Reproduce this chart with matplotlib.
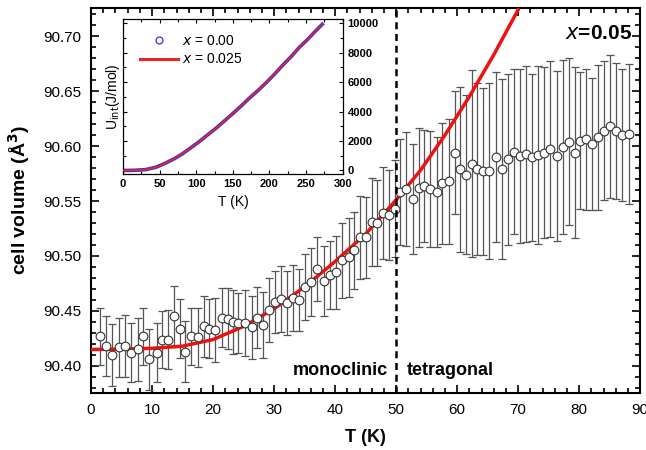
import numpy as np
import matplotlib
matplotlib.use("Agg")
import matplotlib.pyplot as plt
from matplotlib.lines import Line2D
from matplotlib.ticker import MultipleLocator

plt.rcParams["font.family"] = ["Liberation Sans", "DejaVu Sans"]

# ── data: x=0.05 cell volume vs T ─────────────────────────
temp_k = [1.4, 2.4, 3.5, 4.6, 5.6, 6.6, 7.7, 8.5, 9.5, 10.8,
          11.6, 12.6, 13.6, 14.5, 15.4, 16.4, 17.5, 18.5, 19.4, 20.3,
          21.4, 22.4, 23.3, 24.1, 25.2, 26.3, 27.2, 28.2, 29.2, 30.2,
          31.1, 32.1, 33.1, 34.1, 35.1, 36.0, 37.0, 38.1, 39.1, 40.2,
          41.1, 42.2, 43.1, 44.0, 45.1, 46.0, 46.9, 47.8, 48.9, 49.8,
          50.7, 51.6, 52.7, 53.7, 54.6, 55.6, 56.7, 57.5, 58.6, 59.6,
          60.5, 61.5, 62.4, 63.3, 64.3, 65.3, 66.4, 67.3, 68.3, 69.3,
          70.3, 71.3, 72.2, 73.2, 74.2, 75.3, 76.3, 77.3, 78.3, 79.3,
          80.2, 81.1, 82.1, 83.1, 84.1, 85.1, 86.1, 87.0, 88.1]
volume = [90.427, 90.418, 90.410, 90.417, 90.418, 90.412, 90.415, 90.427, 90.406, 90.412,
          90.424, 90.424, 90.445, 90.434, 90.413, 90.427, 90.426, 90.436, 90.434, 90.433,
          90.444, 90.443, 90.440, 90.439, 90.439, 90.435, 90.444, 90.437, 90.451, 90.458,
          90.461, 90.457, 90.462, 90.460, 90.472, 90.476, 90.488, 90.477, 90.483, 90.485,
          90.496, 90.499, 90.505, 90.517, 90.517, 90.531, 90.530, 90.539, 90.537, 90.543,
          90.558, 90.561, 90.552, 90.562, 90.564, 90.561, 90.558, 90.566, 90.568, 90.594,
          90.579, 90.574, 90.584, 90.579, 90.577, 90.577, 90.590, 90.579, 90.588, 90.595,
          90.591, 90.593, 90.590, 90.592, 90.594, 90.597, 90.591, 90.599, 90.604, 90.594,
          90.605, 90.606, 90.602, 90.608, 90.614, 90.618, 90.614, 90.610, 90.611]
vol_err = [0.026, 0.027, 0.028, 0.027, 0.028, 0.027, 0.029, 0.026, 0.028, 0.027,
           0.026, 0.027, 0.028, 0.027, 0.028, 0.026, 0.027, 0.028, 0.027, 0.029,
           0.027, 0.028, 0.029, 0.027, 0.030, 0.029, 0.028, 0.030, 0.029, 0.028,
           0.030, 0.029, 0.030, 0.028, 0.030, 0.031, 0.029, 0.032, 0.031, 0.033,
           0.034, 0.036, 0.035, 0.038, 0.037, 0.040, 0.039, 0.042, 0.041, 0.044,
           0.048, 0.052, 0.050, 0.054, 0.051, 0.053, 0.050, 0.055, 0.057, 0.056,
           0.075, 0.072, 0.085, 0.078, 0.076, 0.080, 0.077, 0.082, 0.078, 0.075,
           0.079, 0.080, 0.076, 0.081, 0.078, 0.080, 0.077, 0.079, 0.076, 0.078,
           0.062, 0.064, 0.060, 0.066, 0.063, 0.065, 0.062, 0.060, 0.064]

# fitted curve (red)
fit_t = [0, 5, 10, 15, 20, 25, 30, 35, 40, 45, 50, 54, 58, 62, 66, 70]
fit_v = [90.415, 90.4152, 90.416, 90.418, 90.424, 90.436, 90.452, 90.472,
         90.495, 90.520, 90.551, 90.578, 90.610, 90.645, 90.683, 90.724]

# inset: internal energy U_int(T)
ins_t = [0, 15, 31, 45, 58, 70, 81, 92, 104, 115, 127, 138, 150, 161,
         172, 184, 195, 207, 218, 230, 241, 252, 263, 272]
ins_u = [0, 10, 60, 220, 500, 800, 1130, 1520, 1960, 2400, 2870, 3350,
         3870, 4370, 4890, 5420, 5940, 6550, 7150, 7760, 8380, 8900, 9480, 9930]

# ── main figure ───────────────────────────────────────────
fig = plt.figure(figsize=(6.46, 4.5), dpi=100)
ax = fig.add_axes([0.141, 0.127, 0.850, 0.855])

ax.errorbar(temp_k, volume, yerr=vol_err, fmt="none", ecolor="#555555",
            elinewidth=0.9, capsize=3.0, capthick=0.9, zorder=2)
ax.plot(fit_t, fit_v, color="#ee1111", lw=2.5, zorder=3)
ax.plot(temp_k, volume, "o", ms=6.3, mfc="white", mec="#333333",
        mew=0.8, zorder=4)
ax.axvline(50, color="black", lw=1.8, ls=(0, (2.8, 1.9)), zorder=5)

ax.set_xlim(0, 90)
ax.set_ylim(90.3755, 90.7255)
ax.xaxis.set_major_locator(MultipleLocator(10))
ax.xaxis.set_minor_locator(MultipleLocator(2))
ax.yaxis.set_major_locator(MultipleLocator(0.05))
ax.yaxis.set_minor_locator(MultipleLocator(0.01))
ax.yaxis.set_major_formatter(plt.FormatStrFormatter("%.2f"))
ax.tick_params(which="both", direction="in", top=True, right=True,
               width=1.2, labelsize=11)
ax.tick_params(which="major", length=6, pad=7)
ax.tick_params(which="minor", length=3.5)
for sp in ax.spines.values():
    sp.set_linewidth(1.5)

ax.set_xlabel("T (K)", fontsize=13, fontweight="bold", labelpad=9)
ax.set_ylabel("cell volume (Å$^\\mathbf{3}$)", fontsize=14,
              fontweight="bold", labelpad=8)

ax.text(0.985, 0.935, "$\\bf{\\it{x}}$=0.05", transform=ax.transAxes,
        ha="right", va="center", fontsize=15, fontweight="bold")
ax.text(48.6, 90.3955, "monoclinic", ha="right", va="center",
        fontsize=13, fontweight="bold")
ax.text(51.7, 90.3955, "tetragonal", ha="left", va="center",
        fontsize=13, fontweight="bold")

# ── inset ─────────────────────────────────────────────────
axi = fig.add_axes([0.1905, 0.613, 0.340, 0.345])
axi.plot(ins_t, ins_u, color="#3333dd", lw=2.6, zorder=2)
axi.plot(ins_t, ins_u, color="#ee2222", lw=1.2, zorder=3)
axi.set_xlim(0, 300)
axi.set_ylim(-250, 10300)
axi.xaxis.set_major_locator(MultipleLocator(50))
axi.xaxis.set_minor_locator(MultipleLocator(25))
axi.yaxis.set_major_locator(MultipleLocator(2000))
axi.yaxis.set_minor_locator(MultipleLocator(1000))
axi.yaxis.tick_right()
axi.tick_params(which="both", direction="in", top=True, left=True,
                right=True, width=0.8, labelsize=8)
axi.tick_params(which="major", length=3)
axi.tick_params(which="minor", length=2)
for lab in axi.get_xticklabels() + axi.get_yticklabels():
    lab.set_fontweight("bold")
for sp in axi.spines.values():
    sp.set_linewidth(0.9)
axi.set_xlabel("T (K)", fontsize=10, labelpad=4)
axi.yaxis.set_label_position("left")
axi.set_ylabel("U$_{\\rm int}$(J/mol)", fontsize=10, labelpad=1)

handles = [Line2D([], [], ls="none", marker="o", ms=5, mfc="none",
                  mec="#3333dd", mew=0.9),
           Line2D([], [], color="#ee2222", lw=2.2)]
axi.legend(handles, ["$x$ = 0.00", "$x$ = 0.025"], loc="upper left",
           frameon=False, fontsize=10, handlelength=2.7,
           borderaxespad=0.2, handletextpad=0.3, labelspacing=0.3,
           bbox_to_anchor=(0.04, 0.955))

fig.savefig("out.png", dpi=100)
